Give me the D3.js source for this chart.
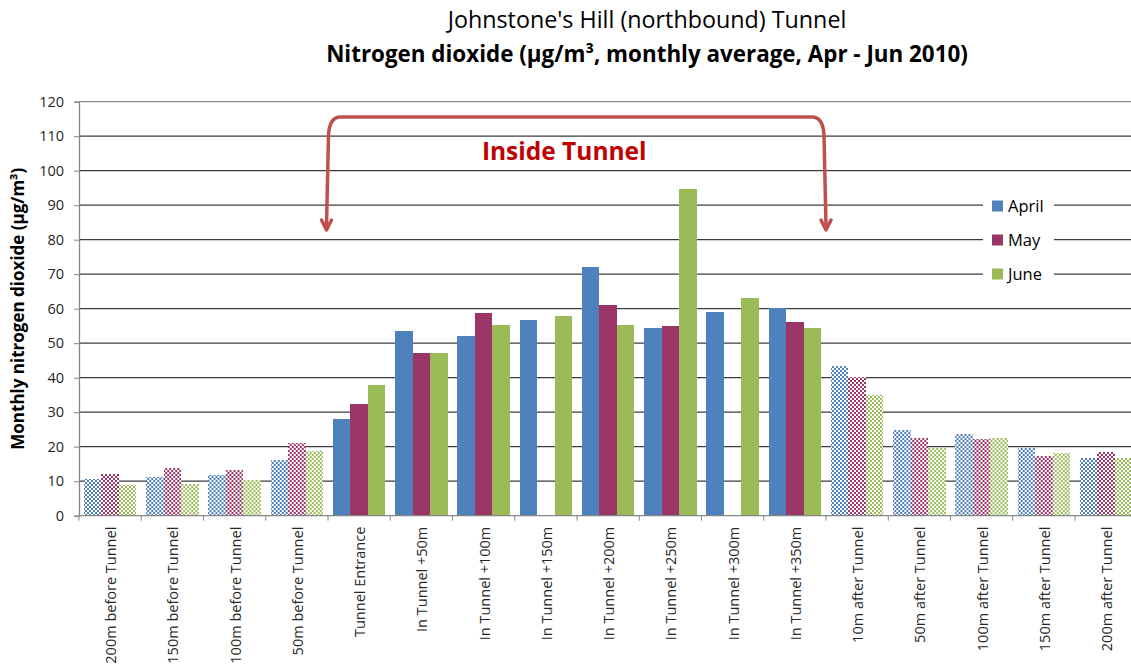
<!DOCTYPE html>
<html>
<head>
<meta charset="utf-8">
<script src="https://cdn.jsdelivr.net/npm/d3@7"></script>
<style>
  body { margin: 0; background: #fff; }
  svg { display: block; font-family: "Open Sans", sans-serif; }
</style>
</head>
<body>
<div id="chart"></div>
<script>
// monitoring sites along the tunnel, in order
const categories = [
  "200m before Tunnel", "150m before Tunnel", "100m before Tunnel", "50m before Tunnel",
  "Tunnel Entrance", "In Tunnel +50m", "In Tunnel +100m", "In Tunnel +150m",
  "In Tunnel +200m", "In Tunnel +250m", "In Tunnel +300m", "In Tunnel +350m",
  "10m after Tunnel", "50m after Tunnel", "100m after Tunnel", "150m after Tunnel",
  "200m after Tunnel"
];
// sites drawn with solid fill (the rest are checkered)
const insideSites = categories.slice(4, 12);

const months = ["April", "May", "June"];
const april = [10.6, 11.2, 11.8, 16.1, 28.0, 53.5, 52.1, 56.6, 72.0, 54.4, 59.1, 60.1, 43.4, 24.8, 23.7, 19.7, 16.7];
const may   = [12.1, 13.8, 13.2, 21.1, 32.5, 47.3, 58.7, null, 61.0, 55.1, null, 56.1, 40.2, 22.4, 22.2, 17.3, 18.5];
const june  = [ 8.9,  9.3, 10.3, 18.8, 37.9, 47.2, 55.3, 58.0, 55.2, 94.8, 63.0, 54.4, 35.0, 19.7, 22.5, 18.2, 16.7];

const yTicks = d3.range(0, 121, 10);

const colors = { April: "#4F81BD", May: "#9B3567", June: "#9BBB59" };

const series = [april, may, june];

const width = 1131, height = 666;
const margin = { left: 79, top: 101.7, bottom: 150.3 };
const step = 62.25;

const svg = d3.select("#chart").append("svg")
  .attr("width", width)
  .attr("height", height);

const x = d3.scaleBand()
  .domain(categories)
  .range([margin.left, margin.left + step * categories.length]);

const x1 = d3.scaleBand()
  .domain(months)
  .range([0, x.bandwidth()])
  .paddingOuter(0.28);

const y = d3.scaleLinear()
  .domain([0, 120])
  .range([height - margin.bottom, margin.top]);

// checkered patterns for the sites outside the tunnel
const defs = svg.append("defs");
months.forEach(m => {
  const p = defs.append("pattern")
    .attr("id", "chk-" + m)
    .attr("patternUnits", "userSpaceOnUse")
    .attr("width", 4).attr("height", 4);
  p.append("rect").attr("width", 4).attr("height", 4).attr("fill", "#fff");
  p.append("rect").attr("width", 2).attr("height", 2).attr("fill", colors[m]);
  p.append("rect").attr("x", 2).attr("y", 2).attr("width", 2).attr("height", 2).attr("fill", colors[m]);
});

// gridlines
svg.append("g")
  .selectAll("line")
  .data(yTicks.filter(d => d > 0))
  .join("line")
  .attr("x1", margin.left)
  .attr("x2", x.range()[1])
  .attr("y1", d => y(d))
  .attr("y2", d => y(d))
  .attr("stroke", d => d === 120 ? "#8a8a8a" : "#3c3c3c")
  .attr("stroke-width", 1.2);

// bars
const rows = categories.map((c, i) => ({
  site: c,
  values: months.map((m, j) => ({ month: m, value: series[j][i] }))
}));

svg.append("g")
  .attr("shape-rendering", "crispEdges")
  .selectAll("g")
  .data(rows)
  .join("g")
  .attr("transform", d => `translate(${x(d.site)},0)`)
  .each(function(row) {
    d3.select(this).selectAll("rect")
      .data(row.values.filter(v => v.value != null))
      .join("rect")
      .attr("x", v => x1(v.month))
      .attr("width", x1.bandwidth())
      .attr("y", v => y(v.value))
      .attr("height", v => y(0) - y(v.value))
      .attr("fill", v => insideSites.includes(row.site) ? colors[v.month] : `url(#chk-${v.month})`);
  });

// y axis
const yAxis = svg.append("g")
  .attr("transform", `translate(${margin.left},0)`)
  .call(d3.axisLeft(y).tickValues(yTicks).tickSize(5).tickPadding(10));
yAxis.select(".domain").attr("stroke", "#868686").attr("stroke-width", 1.3);
yAxis.selectAll(".tick line").attr("stroke", "#868686");
yAxis.selectAll(".tick text")
  .attr("font-size", 14.5)
  .attr("fill", "#262626")
  .attr("font-family", "'Open Sans', sans-serif");

// x axis: ticks on category boundaries
svg.append("line")
  .attr("x1", margin.left).attr("x2", x.range()[1])
  .attr("y1", y(0)).attr("y2", y(0))
  .attr("stroke", "#868686").attr("stroke-width", 1.3);

svg.append("g")
  .selectAll("line")
  .data(categories)
  .join("line")
  .attr("x1", d => x(d)).attr("x2", d => x(d))
  .attr("y1", y(0)).attr("y2", y(0) + 5)
  .attr("stroke", "#868686");

svg.append("g")
  .selectAll("text")
  .data(categories)
  .join("text")
  .attr("transform", d => `translate(${x(d) + x.bandwidth() / 2 + 1},${y(0) + 11}) rotate(-90)`)
  .attr("text-anchor", "end")
  .attr("dy", "0.35em")
  .attr("font-size", 14.5)
  .attr("fill", "#262626")
  .text(d => d);

// axis title
svg.append("text")
  .attr("transform", `translate(24,${(y(0) + y(120)) / 2}) rotate(-90)`)
  .attr("text-anchor", "middle")
  .attr("font-size", 17)
  .attr("font-weight", "bold")
  .attr("fill", "#000")
  .text("Monthly nitrogen dioxide (µg/m³)");

// titles
svg.append("text")
  .attr("x", 647).attr("y", 28)
  .attr("text-anchor", "middle")
  .attr("font-size", 23.3)
  .attr("fill", "#000")
  .text("Johnstone's Hill (northbound) Tunnel");

svg.append("text")
  .attr("x", 647).attr("y", 62)
  .attr("text-anchor", "middle")
  .attr("font-size", 22.4)
  .attr("font-weight", "bold")
  .attr("fill", "#000")
  .text("Nitrogen dioxide (µg/m³, monthly average, Apr - Jun 2010)");

// legend
const legend = svg.append("g").attr("transform", "translate(983,189)");
legend.append("rect").attr("width", 71).attr("height", 102).attr("fill", "#fff");
months.forEach((m, i) => {
  const g = legend.append("g").attr("transform", `translate(9,${17 + i * 34})`);
  g.append("rect").attr("y", -5.5).attr("width", 11).attr("height", 11).attr("fill", colors[m]);
  g.append("text").attr("x", 16).attr("dy", "0.36em")
    .attr("font-size", 16.5).attr("fill", "#000").text(m);
});

// "Inside Tunnel" bracket annotation
const bx0 = x("Tunnel Entrance") - 1.5;
const bx1 = x("10m after Tunnel");
const yTop = y(115.6), yTip = y(82.8);
const bracket = d3.path();
bracket.moveTo(bx0, yTip - 4);
bracket.lineTo(bx0 + 2, yTop + 18);
bracket.quadraticCurveTo(bx0 + 3, yTop, bx0 + 14, yTop);
bracket.lineTo(bx1 - 14, yTop);
bracket.quadraticCurveTo(bx1 - 3, yTop, bx1 - 2, yTop + 18);
bracket.lineTo(bx1, yTip - 4);

const ann = svg.append("g")
  .attr("fill", "none")
  .attr("stroke", "#C0504D")
  .attr("stroke-width", 3.5)
  .attr("stroke-linecap", "round")
  .attr("stroke-linejoin", "round");
ann.append("path").attr("d", bracket.toString());
[bx0, bx1].forEach(bx => {
  ann.append("path")
    .attr("d", `M${bx - 5},${yTip - 10} L${bx},${yTip} L${bx + 5},${yTip - 10}`);
});

svg.append("text")
  .attr("x", (bx0 + bx1) / 2 - 12)
  .attr("y", y(103))
  .attr("text-anchor", "middle")
  .attr("font-size", 24.5)
  .attr("font-weight", "bold")
  .attr("fill", "#C00000")
  .text("Inside Tunnel");
</script>
</body>
</html>
